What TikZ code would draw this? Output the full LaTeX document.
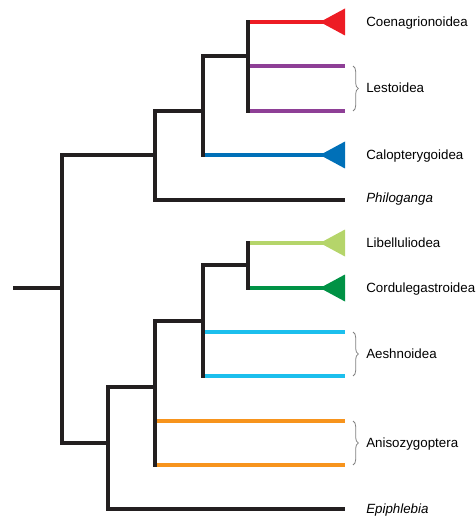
\documentclass[tikz,border=0pt]{standalone}
\usepackage{fontspec}
\setmainfont{Liberation Sans}
\usetikzlibrary{calc,decorations.pathreplacing}
\definecolor{treeblack}{RGB}{35,31,32}
\definecolor{coenred}{RGB}{237,28,36}
\definecolor{lestpurple}{RGB}{142,63,150}
\definecolor{calblue}{RGB}{0,112,184}
\definecolor{libgreen}{RGB}{181,213,106}
\definecolor{corgreen}{RGB}{0,146,69}
\definecolor{aeshblue}{RGB}{28,191,237}
\definecolor{anisoorange}{RGB}{247,148,29}
\tikzset{
  branch/.style={line width=3pt, draw=treeblack},
  stem/.style={line width=3pt, draw=treeblack, line cap=rect},
  tipline/.style={line width=2.8pt},
  taxon/.style={anchor=west, inner sep=0pt, font=\fontsize{10}{12}\selectfont, text height=1.5ex, text depth=.25ex},
  groupbrace/.style={draw=gray, line width=0.6pt, decorate, decoration={brace, amplitude=4pt}},
}
\newcommand{\cladetri}[2]{\fill[#1] ($(#2)+(-25,0)$) -- ($(#2)+(0,-13.5)$) -- ($(#2)+(0,13.5)$) -- cycle;}

\begin{document}
\begin{tikzpicture}[x=0.75pt, y=-0.75pt]
    \useasboundingbox (0,0) rectangle (475,516);
    % internal nodes
    \coordinate (root) at (13,288);
    \coordinate (n1) at (62,288);
    \coordinate (zyg) at (155,155);
    \coordinate (n3) at (203,111);
    \coordinate (n4) at (248,56);
    \coordinate (n5) at (108,443);
    \coordinate (n6) at (155,387);
    \coordinate (n7) at (203,321);
    \coordinate (n8) at (248,265);
    % tips
    \coordinate (coen) at (345,22);
    \coordinate (les1) at (345,66);
    \coordinate (les2) at (345,111);
    \coordinate (calo) at (345,155);
    \coordinate (phil) at (345,200);
    \coordinate (libe) at (345,243);
    \coordinate (cord) at (345,288);
    \coordinate (aes1) at (345,332);
    \coordinate (aes2) at (345,376);
    \coordinate (ani1) at (345,421);
    \coordinate (ani2) at (345,465);
    \coordinate (epi) at (345,509);

    % coloured tip branches
    \draw[tipline, coenred] (n4 |- coen) -- (coen);
    \draw[tipline, lestpurple] (n4 |- les1) -- (les1);
    \draw[tipline, lestpurple] (n4 |- les2) -- (les2);
    \draw[tipline, calblue] (n3 |- calo) -- (calo);
    \draw[tipline, libgreen] (n8 |- libe) -- (libe);
    \draw[tipline, corgreen] (n8 |- cord) -- (cord);
    \draw[tipline, aeshblue] (n7 |- aes1) -- (aes1);
    \draw[tipline, aeshblue] (n7 |- aes2) -- (aes2);
    \draw[tipline, anisoorange] (n6 |- ani1) -- (ani1);
    \draw[tipline, anisoorange] (n6 |- ani2) -- (ani2);
    \cladetri{coenred}{coen}
    \cladetri{calblue}{calo}
    \cladetri{libgreen}{libe}
    \cladetri{corgreen}{cord}

    % black backbone
    \draw[branch] (root) -- (n1);
    \draw[branch] (n1) |- (zyg);
    \draw[branch] (n1) |- (n5);
    \draw[branch] (zyg) |- (n3);
    \draw[branch] (zyg) |- (phil);
    \draw[branch] (n3) |- (n4);
    \draw[stem] (n3) -- (n3 |- calo);
    \draw[stem] (n4 |- coen) -- (n4 |- les2);
    \draw[branch] (n5) |- (n6);
    \draw[branch] (n5) |- (epi);
    \draw[branch] (n6) |- (n7);
    \draw[stem] (n6) -- (n6 |- ani2);
    \draw[branch] (n7) |- (n8);
    \draw[stem] (n7) -- (n7 |- aes2);
    \draw[stem] (n8 |- libe) -- (n8 |- cord);

    % braces
    \draw[groupbrace] ($(les1)+(8,0)$) -- ($(les2)+(8,0)$);
    \draw[groupbrace] ($(aes1)+(8,0)$) -- ($(aes2)+(8,0)$);
    \draw[groupbrace] ($(ani1)+(8,0)$) -- ($(ani2)+(8,0)$);

    % labels
    \node[taxon] (coenlab) at ($(coen)+(21,0)$) {Coenagrionoidea};
    \node[taxon] (leslab) at ($(les1)!0.5!(les2)+(21,0)$) {Lestoidea};
    \node[taxon] (calolab) at ($(calo)+(21,0)$) {Calopterygoidea};
    \node[taxon] (phillab) at ($(phil)+(21,-2)$) {\itshape Philoganga};
    \node[taxon] (libelab) at ($(libe)+(21,0)$) {Libelluliodea};
    \node[taxon] (cordlab) at ($(cord)+(21,0)$) {Cordulegastroidea};
    \node[taxon] (aeslab) at ($(aes1)!0.5!(aes2)+(21,0)$) {Aeshnoidea};
    \node[taxon] (anilab) at ($(ani1)!0.5!(ani2)+(21,0)$) {Anisozygoptera};
    \node[taxon] (epilab) at ($(epi)+(21,0)$) {\itshape Epiphlebia};
\end{tikzpicture}
\end{document}
